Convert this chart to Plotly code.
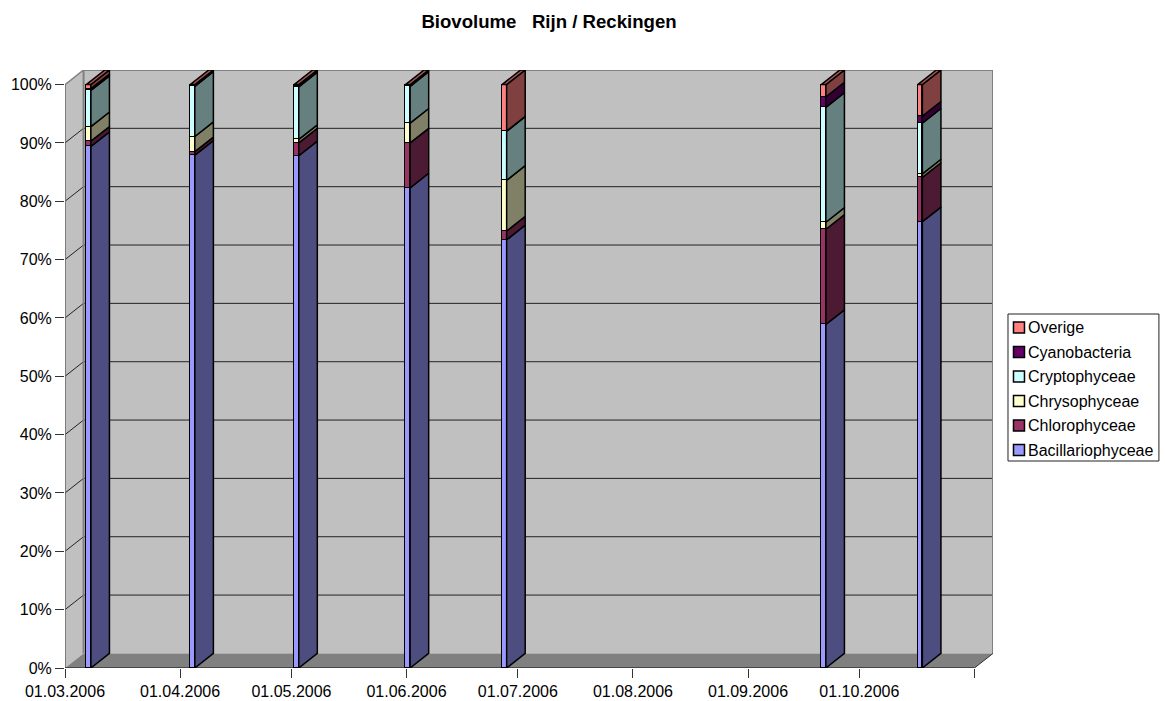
import pandas as pd
import plotly.graph_objects as go

TITLE = "Biovolume\u00a0\u00a0\u00a0Rijn / Reckingen"
dates = ["2006-03-07", "2006-04-04", "2006-05-02", "2006-06-01", "2006-06-27", "2006-09-21", "2006-10-17"]
bacillariophyceae = [89.4, 87.9, 87.8, 82.3, 73.4, 58.9, 76.5]
chlorophyceae = [0.9, 0.6, 2.2, 7.7, 1.5, 16.3, 7.6]
chrysophyceae = [2.5, 2.6, 0.6, 3.4, 8.7, 1.2, 0.6]
cryptophyceae = [6.2, 8.6, 9.0, 6.3, 8.4, 19.7, 8.7]
cyanobacteria = [0.3, 0.1, 0.1, 0.05, 0.05, 1.8, 1.2]
overige = [0.7, 0.2, 0.3, 0.25, 7.95, 2.1, 5.4]

series_names = ["Bacillariophyceae", "Chlorophyceae", "Chrysophyceae", "Cryptophyceae", "Cyanobacteria", "Overige"]
series_values = [bacillariophyceae, chlorophyceae, chrysophyceae, cryptophyceae, cyanobacteria, overige]
front_colors = ["#9999FF", "#993366", "#FFFFCC", "#CCFFFF", "#660066", "#FF8080"]
side_colors = ["#4D4D80", "#4D1A33", "#808066", "#668080", "#330033", "#804040"]
top_colors = ["#73739F", "#73264D", "#BFBF99", "#99BFBF", "#4D004D", "#A85555"]

tick_dates = ["2006-03-01", "2006-04-01", "2006-05-01", "2006-06-01", "2006-07-01",
              "2006-08-01", "2006-09-01", "2006-10-01", "2006-11-01"]
tick_text = ["01.03.2006", "01.04.2006", "01.05.2006", "01.06.2006", "01.07.2006",
             "01.08.2006", "01.09.2006", "01.10.2006", ""]
pct_ticks = [0, 10, 20, 30, 40, 50, 60, 70, 80, 90, 100]

DEPTH_DAYS = 5
DEPTH_PCT = 2.5
BAR_DAYS = 1.25
EDGE = 1.5
FONT = "Liberation Sans, Arial, sans-serif"
W, H = 1165, 701
M_L, M_R, M_T, M_B = 65, 171.5, 70, 33

day = pd.Timedelta(days=1)
x0 = pd.Timestamp(tick_dates[0])
x1 = pd.Timestamp(tick_dates[-1])
back = DEPTH_DAYS * day
iso = lambda t: t.isoformat()
dstr = lambda t: t.strftime("%Y-%m-%d")
# Each date occupies a one-day slot on the axis; the column stands inside it.
centers = [pd.Timestamp(d) + 0.35 * day for d in dates]

fig = go.Figure()

# front faces: real stacked bars
for name, vals, col in zip(series_names, series_values, front_colors):
    fig.add_trace(go.Bar(
        x=[iso(c) for c in centers], y=vals, name=name, width=BAR_DAYS * 86400000,
        marker=dict(color=col, line=dict(color="black", width=EDGE)), showlegend=False,
    ))

# side faces and top face of each column
cum = [0.0] * len(dates)
for i, (name, vals, col, top) in enumerate(zip(series_names, series_values, side_colors, top_colors)):
    xs, ys = [], []
    for j, c in enumerate(centers):
        r = c + BAR_DAYS / 2 * day
        lo, hi = cum[j], cum[j] + vals[j]
        xs += [iso(r), iso(r + back), iso(r + back), iso(r), iso(r), None]
        ys += [lo, lo + DEPTH_PCT, hi + DEPTH_PCT, hi, lo, None]
        cum[j] = hi
    fig.add_trace(go.Scatter(x=xs, y=ys, mode="lines", fill="toself", fillcolor=col,
                             line=dict(color="black", width=EDGE), showlegend=False, hoverinfo="skip"))
    if i == len(series_names) - 1:
        xs, ys = [], []
        for j, c in enumerate(centers):
            l, r = c - BAR_DAYS / 2 * day, c + BAR_DAYS / 2 * day
            xs += [iso(l), iso(r), iso(r + back), iso(l + back), iso(l), None]
            ys += [cum[j], cum[j], cum[j] + DEPTH_PCT, cum[j] + DEPTH_PCT, cum[j], None]
        fig.add_trace(go.Scatter(x=xs, y=ys, mode="lines", fill="toself", fillcolor=top,
                                 line=dict(color="black", width=EDGE), showlegend=False, hoverinfo="skip"))

# 3-D box: walls, floor and gridlines (below all traces)
shapes = []
def poly(points, fill):
    path = "M " + " L ".join(f"{dstr(x)},{y}" for x, y in points) + " Z"
    shapes.append(dict(type="path", path=path, xref="x", yref="y", layer="below",
                       fillcolor=fill, line=dict(color=fill, width=0)))
def seg(a, b, color, w):
    shapes.append(dict(type="line", xref="x", yref="y", layer="below",
                       x0=dstr(a[0]), y0=a[1], x1=dstr(b[0]), y1=b[1], line=dict(color=color, width=w)))

poly([(x0 + back, DEPTH_PCT), (x1 + back, DEPTH_PCT), (x1 + back, 100 + DEPTH_PCT), (x0 + back, 100 + DEPTH_PCT)], "#C0C0C0")
poly([(x0, 0), (x0 + back, DEPTH_PCT), (x0 + back, 100 + DEPTH_PCT), (x0, 100)], "#C0C0C0")
poly([(x0, 0), (x1, 0), (x1 + back, DEPTH_PCT), (x0 + back, DEPTH_PCT)], "#808080")
for p in pct_ticks[1:-1]:
    seg((x0, p), (x0 + back, p + DEPTH_PCT), "#222222", 1)
    seg((x0 + back, p + DEPTH_PCT), (x1 + back, p + DEPTH_PCT), "#222222", 1)
seg((x0, 100), (x0 + back, 100 + DEPTH_PCT), "#808080", 1.5)
seg((x0 + back, 100 + DEPTH_PCT), (x1 + back, 100 + DEPTH_PCT), "#808080", 2)
seg((x0 + back, DEPTH_PCT), (x0 + back, 100 + DEPTH_PCT), "#808080", 2)
seg((x1 + back, DEPTH_PCT), (x1 + back, 100 + DEPTH_PCT), "#808080", 2)
seg((x1, 0), (x1 + back, DEPTH_PCT), "#333333", 1)
seg((x0, 0), (x0, 100), "#666666", 1.5)
seg((x0, 0), (x1, 0), "#333333", 1.5)

# legend box (top row first, as in the reference); "paper" spans the plot area only
annotations = []
px = lambda v: (v - M_L) / (W - M_L - M_R)
py = lambda v: (H - M_B - v) / (H - M_T - M_B)
shapes.append(dict(type="rect", xref="paper", yref="paper", layer="above",
                   x0=px(1008.5), x1=px(1159.5), y0=py(314), y1=py(461),
                   fillcolor="white", line=dict(color="#222222", width=1)))
for k, (name, col) in enumerate(zip(series_names[::-1], front_colors[::-1])):
    cy = 327.5 + k * 24.5
    shapes.append(dict(type="rect", xref="paper", yref="paper", layer="above",
                       x0=px(1014), x1=px(1025), y0=py(cy - 5.5), y1=py(cy + 5.5),
                       fillcolor=col, line=dict(color="black", width=1.5)))
    annotations.append(dict(text=name, xref="paper", yref="paper", x=px(1028), y=py(cy),
                            xanchor="left", yanchor="middle", showarrow=False, xshift=-1,
                            font=dict(family=FONT, size=16, color="black")))

fig.update_layout(
    width=W, height=H, barmode="stack", bargap=0, showlegend=False,
    margin=dict(l=M_L, r=M_R, t=M_T, b=M_B, autoexpand=False),
    paper_bgcolor="white", plot_bgcolor="white",
    font=dict(family=FONT, color="black", size=16),
    title=dict(text=f"<b>{TITLE}</b>", x=549 / W, xanchor="center", y=1 - 21 / H, yanchor="middle",
               font=dict(family=FONT, size=18.6, color="black")),
    xaxis=dict(type="date", range=[iso(x0), iso(x1 + back)], tickvals=tick_dates, ticktext=tick_text,
               tickmode="array", ticks="outside", ticklen=9, tickcolor="#333333", tickwidth=1,
               showgrid=False, zeroline=False, showline=False, tickfont=dict(size=16)),
    yaxis=dict(range=[0, 100 + DEPTH_PCT], tickvals=pct_ticks, ticktext=[f"{p}%" for p in pct_ticks],
               tickmode="array", ticks="outside", ticklen=9, tickcolor="#333333", tickwidth=1,
               showgrid=False, zeroline=False, showline=False, tickfont=dict(size=16)),
    shapes=shapes, annotations=annotations,
)
fig.write_html("out.html", config=dict(displayModeBar=False), post_script="document.body.style.margin='0';")
